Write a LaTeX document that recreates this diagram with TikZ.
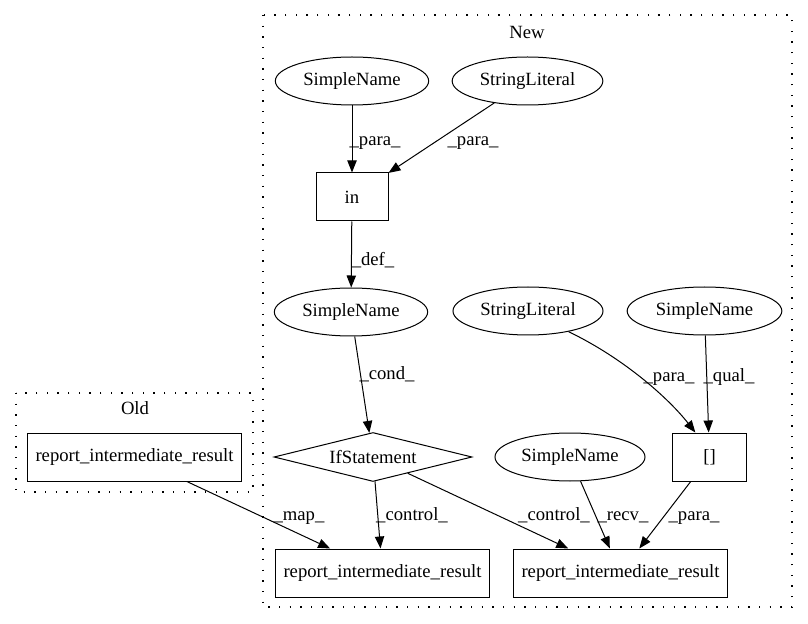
\documentclass[tikz,border=0pt]{standalone}
\usepackage{fontspec}
\setmainfont{Liberation Serif}
\usetikzlibrary{shapes.geometric,arrows.meta}
\begin{document}
\begin{tikzpicture}[x=0.75pt,y=-0.75pt,
  every node/.style={font=\fontsize{14pt}{16pt}\selectfont},
  ell/.style={draw,ellipse,minimum height=36pt,inner sep=0pt,line width=0.75pt},
  bx/.style={draw,rectangle,minimum height=36pt,inner sep=0pt,line width=0.75pt},
  dia/.style={draw,diamond,minimum width=148.5pt,minimum height=36.75pt,inner sep=0pt,shape aspect=4,line width=0.75pt},
  edge/.style={draw,line width=0.75pt,-{Triangle[length=9pt,width=7pt]}},
  lbl/.style={inner sep=0pt,anchor=base},
  cluster/.style={draw,dash pattern=on 1.1pt off 6.9pt,line width=1pt}
]
\useasboundingbox (0,0) rectangle (808,624);
% clusters
\draw[cluster] (263,15) rectangle (792,607);
\node[inner sep=0pt] (newlbl) at (527,32) {New};
\draw[cluster] (16,393) rectangle (253,492);
\node[inner sep=0pt] (oldlbl) at (135,408) {Old};
% nodes
\node[ell,minimum width=115pt] (sn1) at (352,81) {SimpleName};
\node[ell,minimum width=113pt] (sl1) at (527.5,81) {StringLiteral};
\node[bx,minimum width=54pt] (in) at (352,197) {in};
\node[ell,minimum width=115pt] (sn2) at (351,312) {SimpleName};
\node[ell,minimum width=112.5pt] (sl2) at (528,311) {StringLiteral};
\node[ell,minimum width=116pt] (sn3) at (704.5,311) {SimpleName};
\node[dia] (ifs) at (373,457) {IfStatement};
\node[bx,minimum width=55pt] (br) at (709.5,457) {[]};
\node[ell,minimum width=112.5pt] (sn4) at (570,457) {SimpleName};
\node[bx,minimum width=161pt] (old) at (134.5,457) {report\_intermediate\_result};
\node[bx,minimum width=161pt] (r1) at (382.5,573) {report\_intermediate\_result};
\node[bx,minimum width=161pt] (r2) at (620.5,573) {report\_intermediate\_result};
% edges
\draw[edge] (sn1) -- (in);
\draw[edge] (sl1) -- (in);
\draw[edge] (in) -- (sn2);
\draw[edge] (sn2) -- (ifs);
\draw[edge] (sl2.-27) .. controls +(58,28) and +(-25,-32) .. (br.120);
\draw[edge] (sn3) -- (br);
\draw[edge] (old) -- (r1);
\draw[edge] (ifs) -- (r1);
\draw[edge] (ifs) -- (r2);
\draw[edge] (sn4) -- (r2);
\draw[edge] (br) -- (r2);
% labels
\node[lbl] (l1) at (375,146) {\_para\_};
\node[lbl] (l2) at (473,146) {\_para\_};
\node[lbl] (l3) at (373,266) {\_def\_};
\node[lbl] (l4) at (387,380) {\_cond\_};
\node[lbl] (l5) at (669,382) {\_para\_};
\node[lbl] (l6) at (729,382) {\_qual\_};
\node[lbl] (l7) at (299,520) {\_map\_};
\node[lbl] (l8) at (412,520) {\_control\_};
\node[lbl] (l9) at (554,520) {\_control\_};
\node[lbl] (l10) at (623,520) {\_recv\_};
\node[lbl] (l11) at (694,520) {\_para\_};
\end{tikzpicture}
\end{document}
